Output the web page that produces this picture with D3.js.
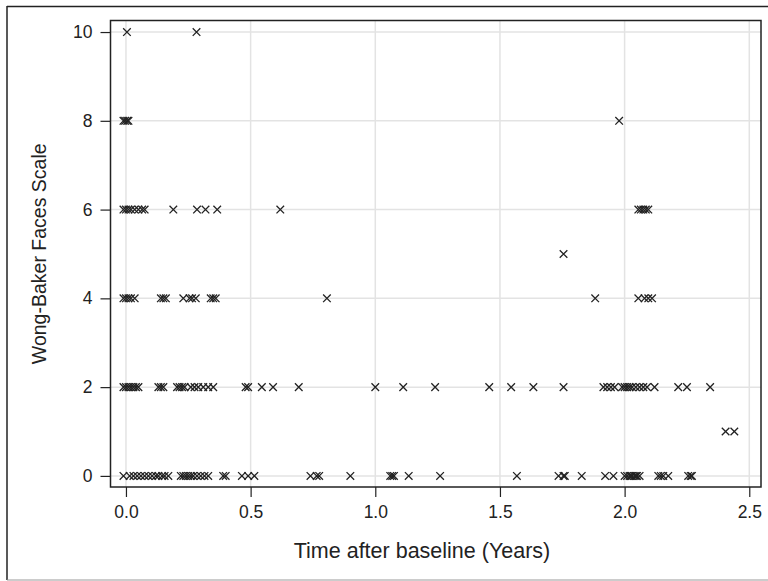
<!DOCTYPE html>
<html>
<head>
<meta charset="utf-8">
<script src="https://cdn.jsdelivr.net/npm/d3@7"></script>
<style>
  body { margin: 0; background: #fff; }
  svg { display: block; font-family: "Liberation Sans", Arial, sans-serif; }
</style>
</head>
<body>
<script>
// Time after baseline (years) of each observation, grouped by Wong-Baker score
const score10 = [0.004, 0.283];
const score8 = [-0.01, -0.003, 0.005, 0.01, 1.978];
const score6 = [-0.01, 0.0, 0.01, 0.02, 0.035, 0.05, 0.065, 0.075, 0.19, 0.285, 0.319, 0.366, 0.619,
                2.055, 2.065, 2.075, 2.085, 2.095];
const score5 = [1.755];
const score4 = [-0.01, 0.0, 0.01, 0.02, 0.035, 0.14, 0.15, 0.16, 0.23, 0.255, 0.265, 0.28, 0.34, 0.35, 0.36, 0.806,
                1.882, 2.055, 2.08, 2.095, 2.11];
const score2 = [-0.01, 0.0, 0.01, 0.02, 0.03, 0.04, 0.05, 0.13, 0.14, 0.15,
                0.205, 0.215, 0.225, 0.235, 0.26, 0.275, 0.29, 0.31, 0.33, 0.35,
                0.48, 0.49, 0.545, 0.59, 0.693, 1.0, 1.112, 1.24, 1.457, 1.545, 1.634, 1.755,
                1.915, 1.93, 1.945, 1.96, 1.99, 2.0, 2.01, 2.02, 2.03, 2.045, 2.06, 2.075, 2.09, 2.12,
                2.215, 2.25, 2.343];
const score1 = [2.405, 2.44];
const score0 = [-0.01, 0.015, 0.03, 0.045, 0.06, 0.075, 0.09, 0.105, 0.12, 0.13, 0.145, 0.155, 0.17,
                0.22, 0.23, 0.24, 0.25, 0.26, 0.27, 0.285, 0.3, 0.315, 0.33, 0.39, 0.4,
                0.465, 0.49, 0.515, 0.74, 0.765, 0.775, 0.9, 1.06, 1.068, 1.075, 1.134, 1.26, 1.568,
                1.735, 1.755, 1.76, 1.828, 1.922, 1.955,
                2.0, 2.01, 2.02, 2.025, 2.03, 2.04, 2.045, 2.05, 2.06,
                2.135, 2.145, 2.155, 2.175, 2.255, 2.265, 2.27];

const xTicks = [0, 0.5, 1.0, 1.5, 2.0, 2.5];
const yTicks = [0, 2, 4, 6, 8, 10];
const xTitle = "Time after baseline (Years)";
const yTitle = "Wong-Baker Faces Scale";

const groups = [[10, score10], [8, score8], [6, score6], [5, score5], [4, score4], [2, score2], [1, score1], [0, score0]];
const points = [];
groups.forEach(([s, arr]) => arr.forEach(t => points.push({t, s})));

const W = 768, H = 581;
const plot = {left: 110.5, top: 20.5, right: 761, bottom: 487};

const x = d3.scaleLinear().domain([-0.062, 2.547]).range([plot.left, plot.right]);
const y = d3.scaleLinear().domain([-0.25, 10.26]).range([plot.bottom, plot.top]);

const svg = d3.select("body").append("svg").attr("width", W).attr("height", H);

// outer frame
svg.append("line").attr("x1", 7).attr("x2", 7).attr("y1", 6).attr("y2", 580).attr("stroke", "#222").attr("stroke-width", 1.5);
svg.append("line").attr("x1", 7).attr("x2", 768).attr("y1", 6.5).attr("y2", 6.5).attr("stroke", "#222").attr("stroke-width", 1.5);
svg.append("line").attr("x1", 7).attr("x2", 768).attr("y1", 580).attr("y2", 580).attr("stroke", "#999").attr("stroke-width", 1);

// gridlines
const grid = svg.append("g");
grid.selectAll(".gx").data(xTicks).join("line")
  .attr("x1", d => x(d)).attr("x2", d => x(d)).attr("y1", plot.top).attr("y2", plot.bottom)
  .attr("stroke", "#e3e3e3").attr("stroke-width", 1.5);
grid.selectAll(".gy").data(yTicks).join("line")
  .attr("y1", d => y(d)).attr("y2", d => y(d)).attr("x1", plot.left).attr("x2", plot.right)
  .attr("stroke", "#e3e3e3").attr("stroke-width", 1.5);

// axes
const xAxis = svg.append("g").attr("transform", `translate(0,${plot.bottom})`)
  .call(d3.axisBottom(x).tickValues(xTicks).tickFormat(d3.format(".1f")).tickSize(10).tickPadding(9));
const yAxis = svg.append("g").attr("transform", `translate(${plot.left},0)`)
  .call(d3.axisLeft(y).tickValues(yTicks).tickFormat(d3.format("d")).tickSize(10).tickPadding(8));
[xAxis, yAxis].forEach(a => {
  a.select(".domain").remove();
  a.selectAll(".tick line").attr("stroke", "#222").attr("stroke-width", 1.2);
  a.selectAll(".tick text").attr("fill", "#222").style("font-size", "17.5px")
    .style("font-family", "'Liberation Sans', Arial, sans-serif");
});

// plot frame
svg.append("rect").attr("x", plot.left).attr("y", plot.top)
  .attr("width", plot.right - plot.left).attr("height", plot.bottom - plot.top)
  .attr("fill", "none").attr("stroke", "#222").attr("stroke-width", 1.5);

// markers
const r = 3.8;
svg.append("g").selectAll("path").data(points).join("path")
  .attr("d", d => {
    const cx = x(d.t), cy = y(d.s);
    return `M${cx - r},${cy - r}L${cx + r},${cy + r}M${cx - r},${cy + r}L${cx + r},${cy - r}`;
  })
  .attr("stroke", "#222").attr("stroke-width", 1.3).attr("fill", "none");

// titles
svg.append("text").attr("x", 422).attr("y", 558)
  .attr("text-anchor", "middle").attr("fill", "#222").style("font-size", "21.5px").text(xTitle);
svg.append("text").attr("transform", `translate(46,${(plot.top + plot.bottom) / 2}) rotate(-90)`)
  .attr("text-anchor", "middle").attr("fill", "#222").style("font-size", "19.5px").text(yTitle);
</script>
</body>
</html>
